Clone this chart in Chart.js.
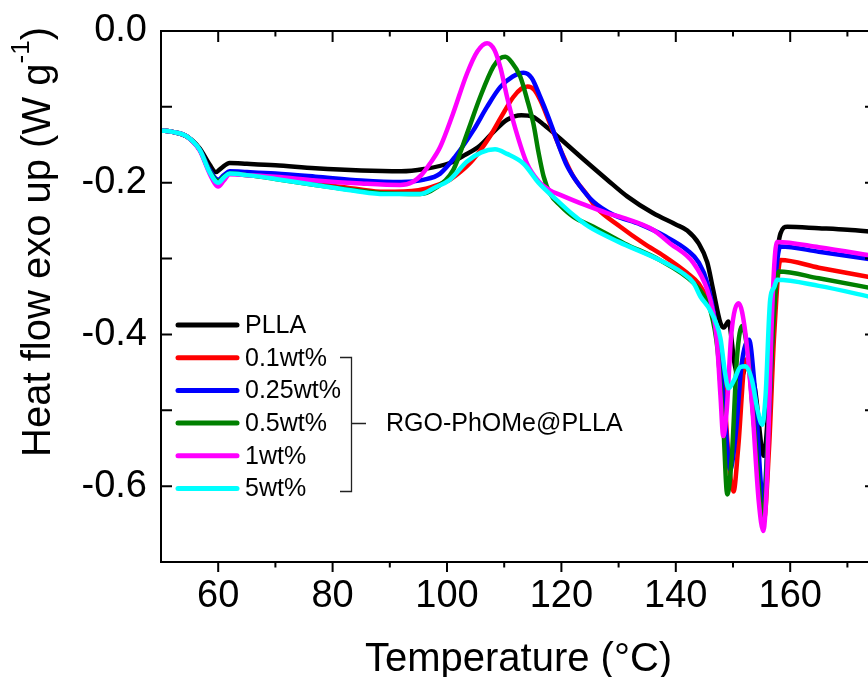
<!DOCTYPE html>
<html>
<head>
<meta charset="utf-8">
<script src="https://cdn.jsdelivr.net/npm/chart.js@4.4.1/dist/chart.umd.min.js"></script>
<style>
  html, body { margin: 0; padding: 0; background: #fff; overflow: hidden; }
  #wrap { width: 880px; height: 677px; }
</style>
</head>
<body>
<div id="wrap"><canvas id="chartDSC" width="880" height="677"></canvas></div>
<script>
// Courbes DSC : température (°C) et flux de chaleur (W/g)
const seriesNames = ['PLLA', '0.1wt%', '0.25wt%', '0.5wt%', '1wt%', '5wt%'];
const seriesColors = ['#000000', '#ff0000', '#0000ff', '#008000', '#ff00ff', '#00ffff'];
const xTicks = [60, 80, 100, 120, 140, 160];
const yTicks = [-0.6, -0.4, -0.2, 0.0];

const tPLLA = [50, 52, 54.5, 56.8, 58.5, 59.6, 60.5, 62, 65, 70, 77, 85, 92, 96, 100.5, 103, 105.8, 108, 110.5, 113, 115, 117, 119.8, 124, 128, 131.5, 136, 140, 142, 144, 145.5, 146.5, 147.8, 148.4, 149.2, 150.3, 151.2, 152.5, 153.8, 155.4, 156.3, 157.3, 158.3, 159.5, 165, 170, 175];
const hPLLA = [-0.131, -0.133, -0.139, -0.155, -0.176, -0.186, -0.181, -0.174, -0.175, -0.177, -0.181, -0.184, -0.185, -0.182, -0.174, -0.164, -0.151, -0.134, -0.117, -0.111, -0.113, -0.124, -0.142, -0.170, -0.196, -0.218, -0.240, -0.255, -0.263, -0.280, -0.305, -0.340, -0.385, -0.391, -0.383, -0.440, -0.460, -0.440, -0.470, -0.560, -0.480, -0.330, -0.267, -0.258, -0.260, -0.262, -0.265];

const t01 = [50, 52, 54.5, 56.8, 58.5, 60, 61, 62, 65, 70, 77, 84, 89, 95, 98, 100.5, 102.3, 104.5, 107.5, 109.5, 111.6, 113, 114.1, 115.2, 116.3, 118, 120.4, 122.1, 124.5, 126, 130.3, 134.4, 138, 142, 144, 145.5, 147, 148.3, 149.3, 150.1, 150.9, 152.2, 153, 154.3, 155.4, 156.3, 157.2, 158.3, 165, 175];
const h01 = [-0.131, -0.133, -0.139, -0.157, -0.185, -0.198, -0.192, -0.188, -0.190, -0.194, -0.201, -0.208, -0.212, -0.210, -0.204, -0.196, -0.186, -0.170, -0.139, -0.113, -0.087, -0.076, -0.073, -0.077, -0.091, -0.122, -0.166, -0.192, -0.216, -0.232, -0.258, -0.280, -0.297, -0.319, -0.333, -0.354, -0.390, -0.460, -0.570, -0.607, -0.550, -0.433, -0.450, -0.560, -0.645, -0.550, -0.400, -0.302, -0.312, -0.326];

const t025 = [50, 52, 54.5, 56.8, 58.5, 60, 61, 62, 65, 70, 77, 85, 92, 96, 98.8, 101.5, 104.6, 107, 109.3, 111.5, 113.4, 114.8, 116.3, 117.7, 119.2, 121, 123.3, 125.6, 129, 133.8, 138, 142, 144, 145.5, 147, 148.3, 149.5, 150.5, 151.5, 152.8, 153.8, 155.3, 156.3, 157.2, 158.3, 165, 175];
const h025 = [-0.131, -0.133, -0.139, -0.157, -0.183, -0.196, -0.190, -0.185, -0.186, -0.188, -0.192, -0.197, -0.199, -0.196, -0.188, -0.165, -0.131, -0.100, -0.074, -0.060, -0.055, -0.062, -0.087, -0.113, -0.144, -0.178, -0.205, -0.225, -0.242, -0.255, -0.270, -0.289, -0.305, -0.332, -0.390, -0.480, -0.578, -0.530, -0.440, -0.407, -0.470, -0.620, -0.500, -0.350, -0.284, -0.291, -0.302];

const t05 = [50, 52, 54.5, 56.8, 58.5, 60, 61, 62, 65, 70, 77, 84, 89, 95.3, 98, 101.1, 103.5, 105.8, 108.1, 109.3, 110.2, 111.3, 112.8, 114, 115.1, 116, 116.9, 118, 119.8, 122.1, 125.6, 131, 137.2, 143.1, 145, 146, 147.3, 148.3, 149, 149.8, 150.7, 151.6, 152.5, 153.8, 155.3, 156.2, 157.1, 158, 165, 175];
const h05 = [-0.131, -0.133, -0.139, -0.157, -0.185, -0.198, -0.192, -0.188, -0.190, -0.195, -0.203, -0.210, -0.214, -0.215, -0.207, -0.183, -0.135, -0.087, -0.047, -0.036, -0.034, -0.041, -0.060, -0.090, -0.122, -0.160, -0.192, -0.214, -0.230, -0.245, -0.258, -0.280, -0.302, -0.332, -0.350, -0.367, -0.420, -0.520, -0.611, -0.560, -0.430, -0.389, -0.420, -0.530, -0.645, -0.520, -0.380, -0.317, -0.326, -0.340];

const t1 = [50, 52, 54.5, 56.8, 58.5, 60, 61, 62, 65, 70, 77, 85, 91.8, 94, 95.5, 97, 98.8, 101, 103.5, 105.3, 107, 108.3, 109.4, 110.5, 112, 114, 116, 118, 119.8, 124, 128, 131.5, 136, 139, 143.1, 145.5, 146.5, 147.2, 147.8, 148.3, 148.9, 149.7, 151, 152.2, 153.4, 154.5, 155.3, 156, 156.7, 157.2, 157.7, 165, 175];
const h1 = [-0.131, -0.133, -0.139, -0.158, -0.188, -0.205, -0.197, -0.189, -0.190, -0.192, -0.197, -0.201, -0.203, -0.199, -0.190, -0.175, -0.153, -0.110, -0.056, -0.027, -0.016, -0.025, -0.050, -0.087, -0.130, -0.175, -0.198, -0.210, -0.216, -0.229, -0.240, -0.248, -0.262, -0.280, -0.306, -0.341, -0.370, -0.410, -0.480, -0.534, -0.500, -0.400, -0.359, -0.400, -0.500, -0.620, -0.659, -0.580, -0.400, -0.310, -0.278, -0.285, -0.297];

const t5 = [50, 52, 54.5, 56.8, 58.5, 60, 61, 62, 65, 70, 77, 84, 89, 95.3, 98, 100.5, 103.5, 106, 108.4, 110.5, 113.4, 116, 119.2, 122, 124.8, 130, 137.2, 141, 143.1, 144.3, 146, 147.8, 148.6, 149.2, 150.2, 151.3, 152.2, 153.3, 154.3, 155.1, 155.7, 156.5, 157.2, 157.7, 165, 175];
const h5 = [-0.131, -0.133, -0.139, -0.157, -0.186, -0.200, -0.193, -0.188, -0.190, -0.195, -0.203, -0.211, -0.215, -0.215, -0.206, -0.196, -0.172, -0.160, -0.156, -0.162, -0.175, -0.200, -0.223, -0.242, -0.258, -0.278, -0.302, -0.318, -0.332, -0.350, -0.368, -0.405, -0.450, -0.471, -0.460, -0.443, -0.442, -0.460, -0.500, -0.519, -0.480, -0.354, -0.338, -0.328, -0.336, -0.352];

const temps = [tPLLA, t01, t025, t05, t1, t5];
const flows = [hPLLA, h01, h025, h05, h1, h5];
// ordre de dessin : le cyan au-dessus, le noir en dessous
const drawOrder = [5, 4, 3, 2, 1, 0];

const FONT = "'Liberation Sans', Arial, sans-serif";

// cadre, graduations, titres et légende
const habillage = {
    id: 'habillage',
    afterDraw(chart) {
        const ctx = chart.ctx;
        const a = chart.chartArea;
        const sx = chart.scales.x, sy = chart.scales.y;
        ctx.save();
        ctx.strokeStyle = '#000';
        ctx.lineWidth = 2;
        ctx.strokeRect(a.left, a.top, a.right - a.left, a.bottom - a.top);

        ctx.lineWidth = 2;
        ctx.beginPath();
        for (let v = 60; v <= 170; v += 10) {
            const x = sx.getPixelForValue(v);
            const major = v % 20 === 0;
            ctx.moveTo(x, a.bottom); ctx.lineTo(x, a.bottom + (major ? 10 : 5.5));
            ctx.moveTo(x, a.top); ctx.lineTo(x, a.top + (major ? 11 : 5.5));
        }
        for (let k = 1; k <= 6; k++) {
            const y = sy.getPixelForValue(-k / 10);
            ctx.moveTo(a.left, y); ctx.lineTo(a.left + 11, y);
            ctx.moveTo(a.right, y); ctx.lineTo(a.right - 11, y);
        }
        ctx.stroke();

        // titre de l'axe x
        ctx.fillStyle = '#000';
        ctx.font = '40px ' + FONT;
        ctx.textAlign = 'center';
        ctx.textBaseline = 'alphabetic';
        ctx.fillText('Temperature (°C)', (a.left + a.right) / 2, 671);

        // titre de l'axe y, avec exposant
        ctx.save();
        ctx.translate(50, 242);
        ctx.rotate(-Math.PI / 2);
        ctx.textAlign = 'left';
        const p1 = 'Heat flow exo up (W g', sup = '-1', p2 = ')';
        ctx.font = '40px ' + FONT;
        const w1 = ctx.measureText(p1).width, w3 = ctx.measureText(p2).width;
        ctx.font = '26px ' + FONT;
        const w2 = ctx.measureText(sup).width;
        let x0 = -(w1 + w2 + w3) / 2;
        ctx.font = '40px ' + FONT;
        ctx.fillText(p1, x0, 0);
        ctx.font = '26px ' + FONT;
        ctx.fillText(sup, x0 + w1, -21);
        ctx.font = '40px ' + FONT;
        ctx.fillText(p2, x0 + w1 + w2, 0);
        ctx.restore();

        // légende
        ctx.font = '25px ' + FONT;
        ctx.textAlign = 'left';
        ctx.textBaseline = 'middle';
        ctx.lineCap = 'round';
        chart.data.datasets.forEach((ds, i) => {
            const y = 325 + i * 32.7;
            ctx.strokeStyle = ds.borderColor;
            ctx.lineWidth = 5;
            ctx.beginPath();
            ctx.moveTo(178, y); ctx.lineTo(237, y);
            ctx.stroke();
            ctx.fillStyle = '#000';
            ctx.fillText(ds.label, 245, y + 1);
        });

        // accolade pour les composites
        ctx.strokeStyle = '#222';
        ctx.lineWidth = 1.3;
        ctx.lineCap = 'butt';
        ctx.beginPath();
        ctx.moveTo(340, 357.5); ctx.lineTo(351.5, 357.5); ctx.lineTo(351.5, 491.5); ctx.lineTo(340, 491.5);
        ctx.moveTo(351.5, 423.5); ctx.lineTo(366, 423.5);
        ctx.stroke();
        ctx.fillStyle = '#000';
        ctx.fillText('RGO-PhOMe@PLLA', 386, 424);
        ctx.restore();
    }
};

new Chart(document.getElementById('chartDSC'), {
    type: 'line',
    data: {
        datasets: seriesNames.map((name, i) => ({
            label: name,
            data: temps[i].map((t, j) => ({ x: t, y: flows[i][j] })),
            borderColor: seriesColors[i],
            backgroundColor: seriesColors[i],
            borderWidth: 4.5,
            pointRadius: 0,
            fill: false,
            cubicInterpolationMode: 'monotone',
            borderCapStyle: 'round',
            borderJoinStyle: 'round',
            order: drawOrder[i]
        }))
    },
    options: {
        responsive: false,
        devicePixelRatio: 1,
        animation: false,
        layout: { padding: { top: 31, right: 4, left: 0, bottom: 0 } },
        plugins: { legend: { display: false }, tooltip: { enabled: false } },
        scales: {
            x: {
                type: 'linear',
                min: 50,
                max: 175,
                afterBuildTicks: (scale) => { scale.ticks = xTicks.map(v => ({ value: v })); },
                afterFit: (scale) => { scale.height = 115; scale.paddingLeft = 0; scale.paddingRight = 0; },
                ticks: { font: { family: FONT, size: 38 }, color: '#000', padding: 12, maxRotation: 0, autoSkip: false },
                grid: { drawOnChartArea: false, drawTicks: false },
                border: { display: false }
            },
            y: {
                min: -0.7,
                max: 0,
                afterBuildTicks: (scale) => { scale.ticks = yTicks.map(v => ({ value: v })); },
                afterFit: (scale) => { scale.width = 161; scale.paddingTop = 0; scale.paddingBottom = 0; },
                ticks: { font: { family: FONT, size: 38 }, color: '#000', padding: 14, callback: (v) => Number(v).toFixed(1) },
                grid: { drawOnChartArea: false, drawTicks: false },
                border: { display: false }
            }
        }
    },
    plugins: [habillage]
});
</script>
</body>
</html>
